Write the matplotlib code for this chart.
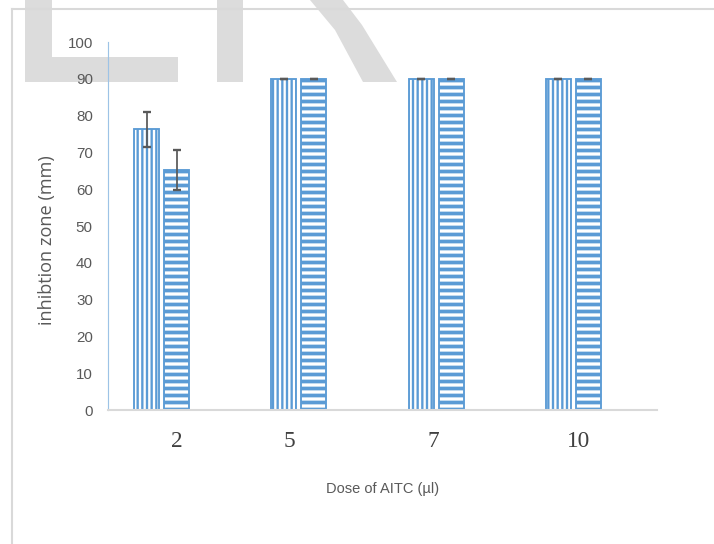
import matplotlib
matplotlib.use("Agg")
import matplotlib.pyplot as plt
from matplotlib.patches import Polygon
from matplotlib.lines import Line2D
import numpy as np

# dose groups and inhibition zone (mm) for the two treatments
doses = ["2", "5", "7", "10"]
zone_a = [76.3, 90, 90, 90]
zone_a_err = [4.7, 0, 0, 0]
zone_b = [65.2, 90, 90, 90]
zone_b_err = [5.4, 0, 0, 0]

W, H, DPI = 714, 544, 84
BLUE = "#5b9bd5"
GREY_TXT = "#595959"
LIGHT = "#d9d9d9"

fig = plt.figure(figsize=(W / DPI, H / DPI), dpi=DPI)
fig.patch.set_facecolor("white")


def px(x, y):
    return (x / W, 1 - y / H)


# light grey watermark shapes in the background
wm = "#dcdcdc"
shapes = [
    [(25, 0), (52, 0), (52, 57), (178, 57), (178, 82), (25, 82)],
    [(217, 0), (243, 0), (243, 82), (217, 82)],
    [(310, 0), (343, 0), (362, 25), (397, 82), (363, 82), (335, 30)],
]
for s in shapes:
    fig.add_artist(Polygon([px(*p) for p in s], closed=True, facecolor=wm,
                           edgecolor="none", transform=fig.transFigure, zorder=0))

# chart frame (top and left edges)
fig.add_artist(Line2D([px(12, 9)[0], 1], [px(12, 9)[1]] * 2, color=LIGHT, lw=1.8,
                      transform=fig.transFigure, zorder=0.5))
fig.add_artist(Line2D([px(12, 9)[0]] * 2, [0, px(12, 9)[1]], color=LIGHT, lw=1.8,
                      transform=fig.transFigure, zorder=0.5))

ax = fig.add_axes([108 / W, 1 - 410 / H, (657 - 108) / W, (410 - 42) / H])
ax.patch.set_alpha(0)

x = np.arange(len(doses))
bw = 0.182
step = 0.2186

plt.rcParams["hatch.linewidth"] = 2.0
bars_a = ax.bar(x - step, zone_a, bw, facecolor="white", edgecolor=BLUE,
                linewidth=1.6, hatch="|||", zorder=2)
plt.rcParams["hatch.linewidth"] = 3.2
bars_b = ax.bar(x, zone_b, bw, facecolor="white", edgecolor=BLUE,
                linewidth=1.6, hatch="--", zorder=2)
for p in bars_a:
    if hasattr(p, "set_hatch_linewidth"):
        p.set_hatch_linewidth(2.0)
for p in bars_b:
    if hasattr(p, "set_hatch_linewidth"):
        p.set_hatch_linewidth(3.2)

ax.errorbar(x - step, zone_a, yerr=zone_a_err, fmt="none", ecolor=GREY_TXT,
            elinewidth=1.5, capsize=3.5, capthick=2, zorder=3)
ax.errorbar(x, zone_b, yerr=zone_b_err, fmt="none", ecolor=GREY_TXT,
            elinewidth=1.5, capsize=3.5, capthick=2, zorder=3)

ax.set_xlim(-0.5, len(doses) - 0.5)
ax.set_ylim(0, 100)
ax.set_yticks(np.arange(0, 101, 10))
ax.tick_params(axis="y", length=0, pad=13, labelsize=13, labelcolor=GREY_TXT)
for t in ax.get_yticklabels():
    t.set_family(["Liberation Sans Narrow", "Liberation Sans"])

# category labels sit slightly off the group centres
ax.set_xticks([0, 0.82, 1.87, 2.93])
ax.set_xticklabels(doses, family=["Liberation Serif", "DejaVu Serif"], fontsize=20,
                   color="#404040")
ax.tick_params(axis="x", length=0, pad=18)

for side in ["top", "right"]:
    ax.spines[side].set_visible(False)
ax.spines["left"].set_color("#9dc3e6")
ax.spines["left"].set_linewidth(1.0)
ax.spines["bottom"].set_color(LIGHT)
ax.spines["bottom"].set_linewidth(1.8)

ax.set_ylabel("inhibtion zone (mm)", family=["Open Sans", "DejaVu Sans"],
              fontsize=15.5, color=GREY_TXT, va="center")
ax.yaxis.set_label_coords(-0.111, (410 - 240) / 368)
ax.set_xlabel("Dose of AITC (µl)", family=["Liberation Sans Narrow", "Liberation Sans"],
              fontsize=12.5, color=GREY_TXT, va="center")
ax.xaxis.set_label_coords((383 - 108) / 549, -(489 - 410) / 368)

fig.savefig("out.png", dpi=DPI, facecolor="white")
